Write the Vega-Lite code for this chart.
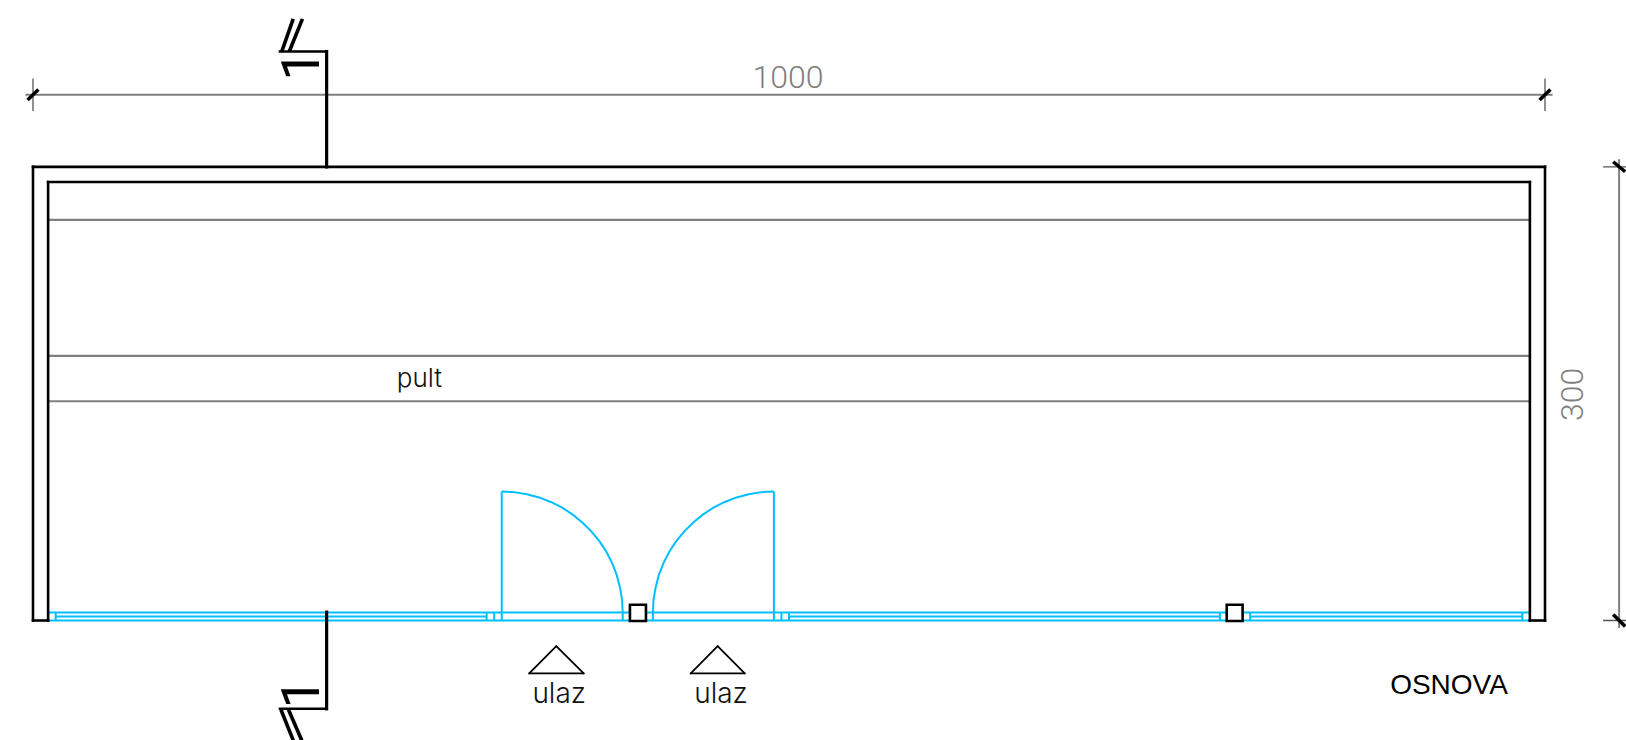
{
"$schema":"https://vega.github.io/schema/vega-lite/v6.json",
"width":1626,"height":740,"padding":0,"autosize":{"type":"none"},"background":"white",
"config":{"view":{"stroke":null}},
"datasets":{
"glass":[{"x":10,"y":5.3,"x2":990,"y2":5.3},{"x":10,"y":0,"x2":990,"y2":0},{"x":15,"y":2.7,"x2":300,"y2":2.7},{"x":500,"y":2.7,"x2":785,"y2":2.7},{"x":805,"y":2.7,"x2":985,"y2":2.7},
{"x":15,"y":0,"x2":15,"y2":5.3},{"x":300,"y":0,"x2":300,"y2":5.3},{"x":305,"y":0,"x2":305,"y2":5.3},{"x":390,"y":0,"x2":390,"y2":5.3},{"x":410,"y":0,"x2":410,"y2":5.3},{"x":495,"y":0,"x2":495,"y2":5.3},{"x":500,"y":0,"x2":500,"y2":5.3},{"x":785,"y":0,"x2":785,"y2":5.3},{"x":805,"y":0,"x2":805,"y2":5.3},{"x":985,"y":0,"x2":985,"y2":5.3},
{"x":310,"y":0,"x2":310,"y2":85.3},{"x":490,"y":0,"x2":490,"y2":85.3}],
"swing":[
{"door":"a","i":0,"x":310,"y":85.3},{"door":"a","i":1,"x":318.4,"y":84.9},{"door":"a","i":2,"x":326.6,"y":83.5},{"door":"a","i":3,"x":334.7,"y":81.4},{"door":"a","i":4,"x":342.5,"y":78.4},{"door":"a","i":5,"x":350,"y":74.6},{"door":"a","i":6,"x":357,"y":70},{"door":"a","i":7,"x":363.5,"y":64.7},{"door":"a","i":8,"x":369.4,"y":58.8},{"door":"a","i":9,"x":374.7,"y":52.3},{"door":"a","i":10,"x":379.3,"y":45.3},{"door":"a","i":11,"x":383.1,"y":37.8},{"door":"a","i":12,"x":386.1,"y":30},{"door":"a","i":13,"x":388.2,"y":21.9},{"door":"a","i":14,"x":389.6,"y":13.7},{"door":"a","i":15,"x":390,"y":5.3},
{"door":"b","i":0,"x":490,"y":85.3},{"door":"b","i":1,"x":481.6,"y":84.9},{"door":"b","i":2,"x":473.4,"y":83.5},{"door":"b","i":3,"x":465.3,"y":81.4},{"door":"b","i":4,"x":457.5,"y":78.4},{"door":"b","i":5,"x":450,"y":74.6},{"door":"b","i":6,"x":443,"y":70},{"door":"b","i":7,"x":436.5,"y":64.7},{"door":"b","i":8,"x":430.6,"y":58.8},{"door":"b","i":9,"x":425.3,"y":52.3},{"door":"b","i":10,"x":420.7,"y":45.3},{"door":"b","i":11,"x":416.9,"y":37.8},{"door":"b","i":12,"x":413.9,"y":30},{"door":"b","i":13,"x":411.8,"y":21.9},{"door":"b","i":14,"x":410.4,"y":13.7},{"door":"b","i":15,"x":410,"y":5.3}],
"counter":[{"x":10,"y":265,"x2":990,"y2":265},{"x":10,"y":175,"x2":990,"y2":175},{"x":10,"y":145,"x2":990,"y2":145}],
"dimLine":[{"x":-5,"y":347.7,"x2":1005,"y2":347.7},{"x":1049,"y":305,"x2":1049,"y2":-5}],
"dimTick":[{"x":0,"y":337,"x2":0,"y2":358.4},{"x":1000,"y":337,"x2":1000,"y2":358.4},{"x":1038.4,"y":300,"x2":1060,"y2":300},{"x":1038.4,"y":0,"x2":1060,"y2":0}],
"dimSlash":[{"x":-3.6,"y":344.2,"x2":3.6,"y2":351.2},{"x":996.4,"y":344.2,"x2":1003.6,"y2":351.2},{"x":1045.1,"y":303.4,"x2":1053,"y2":296.8},{"x":1045.1,"y":3.9,"x2":1053,"y2":-3.9}],
"walls":[{"x":0,"y":0,"x2":0,"y2":300},{"x":0,"y":300,"x2":1000,"y2":300},{"x":1000,"y":300,"x2":1000,"y2":0},{"x":0,"y":0,"x2":10,"y2":0},{"x":990,"y":0,"x2":1000,"y2":0},{"x":10,"y":0,"x2":10,"y2":290},{"x":10,"y":290,"x2":990,"y2":290},{"x":990,"y":290,"x2":990,"y2":0}],
"sectionFlag":[{"x":162.5,"y":376.3,"x2":194.2,"y2":376.3},{"x":162.5,"y":-58.4,"x2":194.2,"y2":-58.4}],
"sectionLine":[{"x":194.2,"y":376.3,"x2":194.2,"y2":300},{"x":194.2,"y":5.5,"x2":194.2,"y2":-58.4}],
"sectionSlash":[{"x":164.5,"y":376.3,"x2":172.1,"y2":397.9},{"x":169.5,"y":376.3,"x2":178.2,"y2":397.9},{"x":164,"y":-59,"x2":172.2,"y2":-79.4},{"x":169,"y":-59,"x2":177.8,"y2":-79.4}],
"pillars":[{"x":394.8,"y":-0.3,"x2":405.4,"y2":10.4},{"x":789.5,"y":-0.3,"x2":800,"y2":10.4}],
"arrows":[{"x":328.2,"y":-35,"x2":364.2,"y2":-35},{"x":328.2,"y":-35,"x2":346.1,"y2":-17},{"x":346.1,"y":-17,"x2":364.2,"y2":-35},{"x":435,"y":-35,"x2":470.7,"y2":-35},{"x":435,"y":-35,"x2":452.8,"y2":-17},{"x":452.8,"y":-17,"x2":470.7,"y2":-35}],
"labels":[{"x":348,"y":-54.7,"t":"ulaz"},{"x":455,"y":-54.7,"t":"ulaz"}],
"counterLabel":[{"x":255.6,"y":154.2,"t":"pult"}],
"dimH":[{"x":499.3,"y":352.5,"t":"1000"}],
"dimV":[{"x":1025,"y":149.5,"t":"300"}],
"title":[{"x":936.5,"y":-48.5,"t":"OSNOVA"}],
"sectionNo":[{"x":189.2,"y":367,"t":"1"},{"x":189.2,"y":-48.1,"t":"1"}]
},
"encoding":{
"x":{"field":"x","type":"quantitative","axis":null,"scale":{"domain":[-21.825,1053.57],"nice":false,"zero":false}},
"y":{"field":"y","type":"quantitative","axis":null,"scale":{"domain":[-79.03,410.39],"nice":false,"zero":false}}
},
"layer":[
{"data":{"name":"dimLine"},"mark":{"type":"rule","stroke":"#808080","strokeWidth":2},"encoding":{"x2":{"field":"x2"},"y2":{"field":"y2"}}},
{"data":{"name":"dimTick"},"mark":{"type":"rule","stroke":"#555555","strokeWidth":1.3},"encoding":{"x2":{"field":"x2"},"y2":{"field":"y2"}}},
{"data":{"name":"dimSlash"},"mark":{"type":"rule","stroke":"#000000","strokeWidth":3.5},"encoding":{"x2":{"field":"x2"},"y2":{"field":"y2"}}},
{"data":{"name":"counter"},"mark":{"type":"rule","stroke":"#808080","strokeWidth":2.2},"encoding":{"x2":{"field":"x2"},"y2":{"field":"y2"}}},
{"data":{"name":"glass"},"mark":{"type":"rule","stroke":"#00BFFF","strokeWidth":2},"encoding":{"x2":{"field":"x2"},"y2":{"field":"y2"}}},
{"data":{"name":"swing"},"mark":{"type":"line","stroke":"#00BFFF","strokeWidth":2},"encoding":{"detail":{"field":"door"},"order":{"field":"i","type":"quantitative"}}},
{"data":{"name":"walls"},"mark":{"type":"rule","stroke":"#000000","strokeWidth":2.6,"strokeCap":"square"},"encoding":{"x2":{"field":"x2"},"y2":{"field":"y2"}}},
{"data":{"name":"sectionFlag"},"mark":{"type":"rule","stroke":"#000000","strokeWidth":2.5},"encoding":{"x2":{"field":"x2"},"y2":{"field":"y2"}}},
{"data":{"name":"sectionLine"},"mark":{"type":"rule","stroke":"#000000","strokeWidth":3.2,"strokeCap":"square"},"encoding":{"x2":{"field":"x2"},"y2":{"field":"y2"}}},
{"data":{"name":"sectionSlash"},"mark":{"type":"rule","stroke":"#000000","strokeWidth":3.6},"encoding":{"x2":{"field":"x2"},"y2":{"field":"y2"}}},
{"data":{"name":"pillars"},"mark":{"type":"rect","fill":"#ffffff","stroke":"#000000","strokeWidth":2.6},"encoding":{"x2":{"field":"x2"},"y2":{"field":"y2"}}},
{"data":{"name":"arrows"},"mark":{"type":"rule","stroke":"#000000","strokeWidth":1.8,"strokeCap":"round"},"encoding":{"x2":{"field":"x2"},"y2":{"field":"y2"}}},
{"data":{"name":"labels"},"mark":{"type":"text","font":"Inter","fontWeight":300,"fontSize":28,"fill":"#111111","align":"center","baseline":"alphabetic"},"encoding":{"text":{"field":"t"}}},
{"data":{"name":"counterLabel"},"mark":{"type":"text","font":"Inter","fontWeight":300,"fontSize":26,"fill":"#111111","align":"center","baseline":"alphabetic"},"encoding":{"text":{"field":"t"}}},
{"data":{"name":"dimH"},"mark":{"type":"text","font":"Roboto","fontWeight":300,"fontSize":32,"fill":"#808080","align":"center","baseline":"alphabetic"},"encoding":{"text":{"field":"t"}}},
{"data":{"name":"dimV"},"mark":{"type":"text","font":"Roboto","fontWeight":300,"fontSize":32,"fill":"#808080","angle":270,"align":"center","baseline":"alphabetic"},"encoding":{"text":{"field":"t"}}},
{"data":{"name":"title"},"mark":{"type":"text","font":"Liberation Sans","fontSize":28,"fill":"#000000","align":"center","baseline":"alphabetic"},"encoding":{"text":{"field":"t"}}},
{"data":{"name":"sectionNo"},"mark":{"type":"text","font":"Roboto","fontSize":54,"fill":"#000000","angle":270,"align":"center","baseline":"alphabetic"},"encoding":{"text":{"field":"t"}}}
]
}
